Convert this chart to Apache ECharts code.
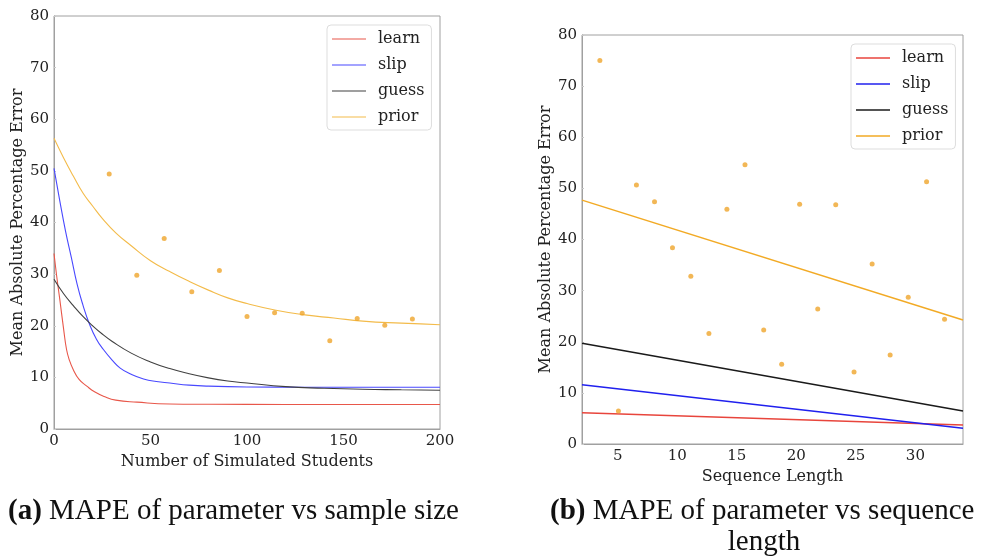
<!DOCTYPE html>
<html>
<head>
  <meta charset="utf-8">
  <title>MAPE of parameters</title>
  <style>
    body {
      margin: 0;
      background-color: #ffffff;
    }
    #chart {
      width: 981px;
      height: 557px;
    }
  </style>
</head>
<body>
  <div id="chart"></div>
  <script src="https://cdn.jsdelivr.net/npm/echarts@6.0.0/dist/echarts.min.js"></script>
  <script>
    // (a) fitted curves vs number of simulated students
    var learnSample = [[0, 34], [1.5, 29.3], [3, 25.1], [5, 19.3], [6.5, 15.4], [8, 13.3], [10, 11.5], [13, 9.6],
      [17, 8.3], [21, 7.2], [26, 6.3], [32, 5.6], [43, 5.2], [60, 4.85], [80, 4.8], [120, 4.75], [200, 4.75]];
    var slipSample = [[0, 50.5], [3, 44.2], [6, 38.3], [9, 33.2], [12, 28.0], [15, 24.0], [18.3, 20.4], [22, 17.4],
      [25.6, 15.4], [30, 13.4], [34.3, 11.8], [40, 10.6], [46.4, 9.7], [53, 9.2], [60, 8.9], [70, 8.5], [80, 8.3],
      [100, 8.15], [130, 8.1], [200, 8.1]];
    var guessSample = [[0, 29.0], [5, 26.2], [10, 23.9], [15, 21.8], [20, 20.0], [25, 18.4], [30, 17.0], [40, 14.7],
      [50, 13.0], [60, 11.7], [70, 10.7], [80, 9.9], [90, 9.3], [100, 8.9], [120, 8.2], [140, 7.9], [160, 7.7],
      [180, 7.6], [200, 7.5]];
    var priorSample = [[0, 56.3], [5, 52.5], [10, 49.0], [15, 45.7], [20, 43.2], [25, 40.8], [32, 38.0], [40, 35.5],
      [50, 32.6], [60, 30.5], [70, 28.6], [80, 26.9], [90, 25.4], [100, 24.3], [115, 23.0], [130, 22.1],
      [145, 21.5], [160, 20.9], [180, 20.5], [200, 20.2]];
    var priorSamplePts = [[28.6, 49.4], [42.9, 29.8], [57.1, 36.9], [71.4, 26.6], [85.7, 30.7], [100, 21.8],
      [114.3, 22.5], [128.6, 22.4], [142.9, 17.1], [157.1, 21.4], [171.4, 20.1], [185.7, 21.3]];

    // (b) linear fits vs sequence length (end points at x = 2 and x = 34)
    var learnSeq = [[2, 6.1], [34, 3.7]];
    var slipSeq = [[2, 11.6], [34, 3.06]];
    var guessSeq = [[2, 19.7], [34, 6.45]];
    var priorSeq = [[2, 47.7], [34, 24.25]];
    var priorSeqPts = [[3.5, 75.0], [5.06, 6.45], [6.57, 50.65], [8.09, 47.4], [9.6, 38.4], [11.14, 32.8],
      [12.66, 21.6], [14.17, 45.9], [15.69, 54.6], [17.26, 22.3], [18.77, 15.6], [20.28, 46.9], [21.8, 26.4],
      [23.31, 46.8], [24.85, 14.1], [26.37, 35.2], [27.88, 17.4], [29.4, 28.7], [30.94, 51.3], [32.45, 24.4]];

    var names = ['learn', 'slip', 'guess', 'prior'];
    var seqTicks = [5, 10, 15, 20, 25, 30];

    var colorsA = ['#e8574a', '#4848ff', '#404040', '#f3bb4a'];
    var colorsB = ['#e8453c', '#2020ee', '#1a1a1a', '#f2aa25'];
    var dotColor = '#efa52c';

    var font = 'DejaVu Serif';
    var ink = '#222222';
    var frame = '#a0a0a0';

    function valueAxis(gridIndex, min, max, interval) {
      var ax = {
        type: 'value',
        gridIndex: gridIndex,
        min: min,
        max: max,
        splitLine: { show: false },
        axisLine: { show: true, lineStyle: { color: frame, width: 1 } },
        axisTick: { show: true, inside: true, length: 2, lineStyle: { color: '#c8c8c8' } },
        axisLabel: { color: ink, fontFamily: font, fontSize: 15, margin: 5 },
        nameTextStyle: { color: ink, fontFamily: font, fontSize: 16 }
      };
      if (interval) ax.interval = interval;
      return ax;
    }

    // plain line sample in the legend (no marker)
    function legendFor(left, top, colors, thick) {
      return {
        orient: 'vertical',
        left: left,
        top: top,
        padding: [6, 7, 5, 5],
        itemWidth: 34,
        itemHeight: 14,
        itemGap: 10,
        borderColor: '#dddddd',
        borderWidth: 1,
        borderRadius: 4,
        backgroundColor: '#ffffff',
        selectedMode: false,
        textStyle: { color: ink, fontFamily: font, fontSize: 16, padding: [0, 0, 0, 7] },
        data: names.map(function (n, i) {
          return {
            name: n,
            icon: 'path://M0,0L34,0L34,' + thick + 'L0,' + thick + 'Z',
            itemStyle: { color: colors[i], borderWidth: 0 }
          };
        })
      };
    }

    var curvesA = [learnSample, slipSample, guessSample, priorSample];
    var linesB = [learnSeq, slipSeq, guessSeq, priorSeq];

    var series = [];
    curvesA.forEach(function (d, i) {
      series.push({
        name: names[i],
        type: 'line',
        xAxisIndex: 0,
        yAxisIndex: 0,
        data: d,
        symbol: 'none',
        smooth: 0.5,
        lineStyle: { color: colorsA[i], width: 1.1 },
        itemStyle: { color: colorsA[i] },
        z: 2
      });
    });
    series.push({
      name: 'prior points a',
      type: 'scatter',
      xAxisIndex: 0,
      yAxisIndex: 0,
      data: priorSamplePts,
      symbolSize: 5,
      itemStyle: { color: dotColor },
      z: 3
    });
    linesB.forEach(function (d, i) {
      series.push({
        name: names[i],
        type: 'line',
        xAxisIndex: 1,
        yAxisIndex: 1,
        data: d,
        symbol: 'none',
        lineStyle: { color: colorsB[i], width: 1.5 },
        itemStyle: { color: colorsB[i] },
        z: 2
      });
    });
    series.push({
      name: 'prior points b',
      type: 'scatter',
      xAxisIndex: 1,
      yAxisIndex: 1,
      data: priorSeqPts,
      symbolSize: 5,
      itemStyle: { color: dotColor },
      z: 3
    });

    var xA = valueAxis(0, 0, 200, 50);
    xA.name = 'Number of Simulated Students';
    xA.nameLocation = 'middle';
    xA.nameGap = 21;
    xA.axisTick = { show: false };

    var yA = valueAxis(0, 0, 80, 10);
    yA.name = 'Mean Absolute Percentage Error';
    yA.nameLocation = 'middle';
    yA.nameMoveOverlap = false;
    yA.nameGap = 28;

    var xB = valueAxis(1, 2, 34, null);
    xB.name = 'Sequence Length';
    xB.nameLocation = 'middle';
    xB.nameGap = 21;
    xB.axisTick = { show: false };
    xB.axisLabel.customValues = seqTicks;

    var yB = valueAxis(1, 0, 80, 10);
    yB.name = 'Mean Absolute Percentage Error';
    yB.nameLocation = 'middle';
    yB.nameMoveOverlap = false;
    yB.nameGap = 28;

    var capSize = 29;
    var captionStyle = {
      color: '#111111',
      fontFamily: 'Liberation Serif',
      fontSize: capSize,
      fontWeight: 'normal',
      rich: {
        b: { fontFamily: 'Liberation Serif', fontSize: capSize, fontWeight: 'bold', color: '#111111' },
        n: { fontFamily: 'Liberation Serif', fontSize: capSize, color: '#111111' }
      }
    };

    var option = {
      backgroundColor: '#ffffff',
      animation: false,
      title: [
        { text: '{b|(a)}{n| MAPE of parameter vs sample size}', left: 8, top: 497, padding: 0, textStyle: captionStyle },
        { text: '{b|(b)}{n| MAPE of parameter vs sequence}', left: 550, top: 497, padding: 0, textStyle: captionStyle },
        { text: '{n|length}', left: 764, top: 528, textAlign: 'center', padding: 0, textStyle: captionStyle }
      ],
      grid: [
        { left: 54, top: 16, width: 386, height: 413, show: true, borderColor: frame, borderWidth: 1, backgroundColor: '#ffffff' },
        { left: 582, top: 35, width: 381, height: 409, show: true, borderColor: frame, borderWidth: 1, backgroundColor: '#ffffff' }
      ],
      legend: [legendFor(327, 25, colorsA, 1.2), legendFor(851, 44, colorsB, 1.6)],
      xAxis: [xA, xB],
      yAxis: [yA, yB],
      series: series
    };

    var chart = echarts.init(document.getElementById('chart'), null, { renderer: 'canvas' });
    chart.setOption(option);
  </script>
</body>
</html>
